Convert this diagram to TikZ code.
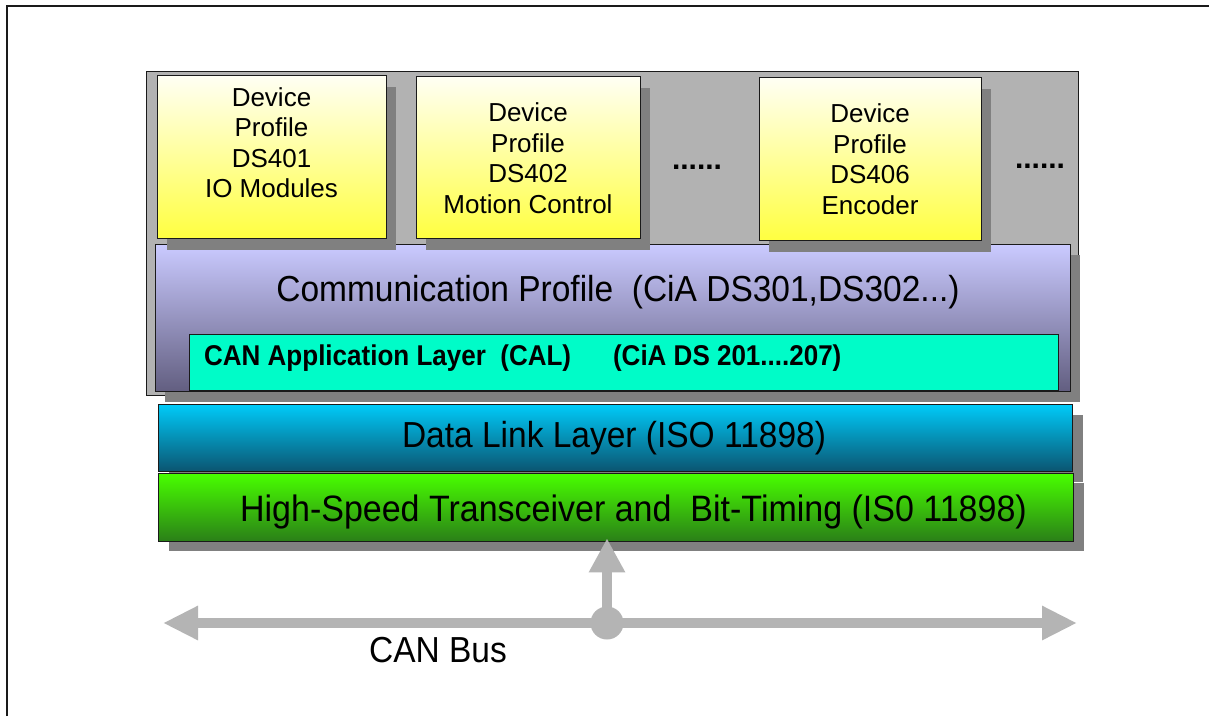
\documentclass[tikz,border=0pt]{standalone}
\usepackage{fontspec}
\setmainfont{Liberation Sans}
\usetikzlibrary{arrows.meta,shadows}
\definecolor{edge}{HTML}{1A1A1A}
\definecolor{shadowgray}{HTML}{808080}
\definecolor{panelgray}{HTML}{B2B2B2}
\definecolor{dptop}{HTML}{FFFFF4}
\definecolor{dpbot}{HTML}{FFFF40}
\definecolor{cptop}{HTML}{CACAFF}
\definecolor{cpbot}{HTML}{625E80}
\definecolor{calfill}{HTML}{00FCC8}
\definecolor{dltop}{HTML}{00CAF8}
\definecolor{dlbot}{HTML}{0B5470}
\definecolor{hstop}{HTML}{48FF00}
\definecolor{hsbot}{HTML}{2A7E18}
\definecolor{busgray}{HTML}{B4B4B4}
\tikzset{
  boxbase/.style={draw=edge, line width=1.3pt, inner sep=0pt, anchor=north west},
  devbox/.style={boxbase, top color=dptop, bottom color=dpbot,
     drop shadow={opacity=1, fill=shadowgray, shadow xshift=9pt, shadow yshift=-11pt}},
  devtext/.style={align=center, font=\fontsize{26}{30.5}\selectfont, inner sep=0pt},
  bigtext/.style={font=\fontsize{33.5}{40}\selectfont, inner sep=0pt},
  dots/.style={font=\bfseries\fontsize{30}{30}\selectfont, inner sep=0pt},
  busline/.style={draw=busgray, line width=10pt},
}
\begin{document}
\begin{tikzpicture}[x=1pt,y=-1pt]
\useasboundingbox (0,0) rectangle (1209,716);
\fill[white] (0,0) rectangle (1209,716);
\draw[line width=1.5pt, edge] (7,716) -- (7,6) -- (1209,6);

% grey panel
\node[boxbase, fill=panelgray, minimum width=932pt, minimum height=324pt] (panel) at (146,71) {};

% communication profile
\node[boxbase, top color=cptop, bottom color=cpbot, minimum width=915pt, minimum height=147pt,
  drop shadow={opacity=1, fill=shadowgray, shadow xshift=9pt, shadow yshift=-10pt}] (comm) at (155,244) {};
\node[bigtext] (commtext) at (618,292) {\scalebox{1}[1.08]{Communication Profile\ \ (CiA DS301,DS302...)}};

% CAL
\node[boxbase, fill=calfill, minimum width=869pt, minimum height=56pt] (cal) at (189,334) {};
\node[font=\bfseries\fontsize{26}{30}\selectfont, inner sep=0pt, anchor=west] (caltext) at (204,358)
  {\scalebox{1}[1.1]{CAN Application Layer\ \ (CAL)\hspace{42pt}(CiA DS 201....207)}};

% device profiles
\node[devbox, minimum width=229pt, minimum height=163pt] (dp1) at (157,75) {};
\node[devbox, minimum width=224pt, minimum height=162pt] (dp2) at (416,76) {};
\node[devbox, minimum width=222pt, minimum height=163pt] (dp3) at (759,77) {};
\node[devtext] (dp1text) at (271.5,142.5) {Device\\Profile\\DS401\\IO Modules};
\node[devtext] (dp2text) at (528,158) {Device\\Profile\\DS402\\Motion Control};
\node[devtext] (dp3text) at (870,159) {Device\\Profile\\DS406\\Encoder};
\node[dots] (dotsa) at (697,167) {......};
\node[dots] (dotsb) at (1040,166) {......};

% data link layer
\node[boxbase, top color=dltop, bottom color=dlbot, minimum width=914pt, minimum height=67pt,
  drop shadow={opacity=1, fill=shadowgray, shadow xshift=10pt, shadow yshift=-10pt}] (dll) at (158,404) {};
\node[bigtext] (dlltext) at (614,438) {\scalebox{1}[1.08]{Data Link Layer (ISO 11898)}};

% transceiver
\node[boxbase, top color=hstop, bottom color=hsbot, minimum width=915pt, minimum height=68pt,
  drop shadow={opacity=1, fill=shadowgray, shadow xshift=10pt, shadow yshift=-9pt}] (hs) at (158,473) {};
\node[bigtext, font=\fontsize{34}{40}\selectfont] (hstext) at (633.5,512) {\scalebox{1}[1.08]{High-Speed Transceiver and\ \ Bit-Timing (IS0 11898)}};

% CAN bus
\coordinate (busL) at (163,623);
\coordinate (busR) at (1077,623);
\node[circle, fill=busgray, minimum size=33pt, inner sep=0pt] (junc) at (607,623) {};
\draw[busline, {Triangle[length=35pt,width=32pt]}-{Triangle[length=35pt,width=32pt]}] (busL) -- (busR);
\draw[busline, -{Triangle[length=34pt,width=34pt]}, shorten >=-4pt] (junc.center) -- (junc.center |- hs.south);
\node[bigtext] (bustext) at (438,650) {\scalebox{1}[1.08]{CAN Bus}};
\end{tikzpicture}
\end{document}
